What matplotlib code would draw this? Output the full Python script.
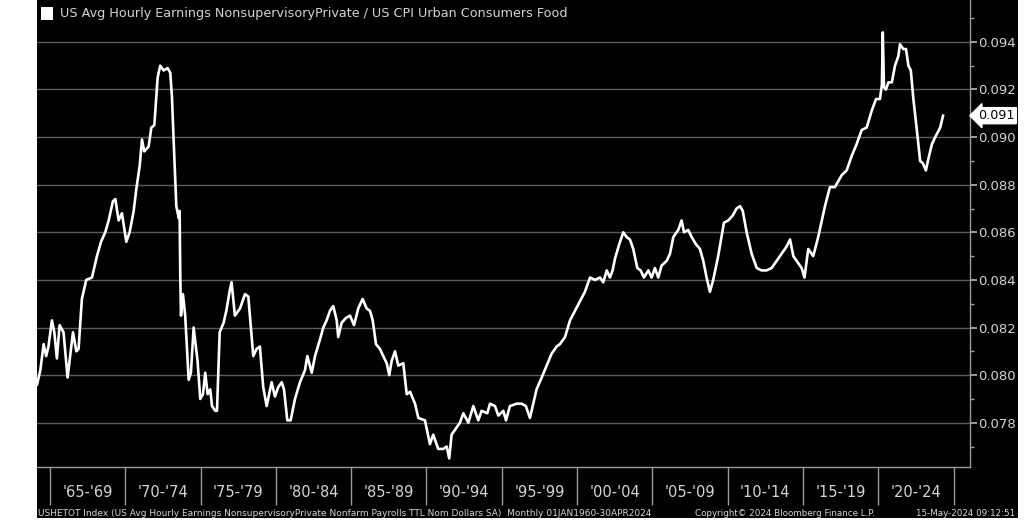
import matplotlib
matplotlib.use("Agg")
import matplotlib.pyplot as plt
import matplotlib.ticker as ticker
from matplotlib.patches import Rectangle

# ── Data ──────────────────────────────────────────────────────────────────────
YEARS = [
    1964.14, 1964.36, 1964.58, 1964.75, 1964.90, 1965.13, 1965.29, 1965.46, 1965.64, 1965.90,
    1966.17, 1966.53, 1966.75, 1966.90, 1967.12, 1967.41, 1967.79, 1968.12, 1968.39, 1968.67,
    1968.90, 1969.18, 1969.34, 1969.56, 1969.78, 1970.07, 1970.29, 1970.56, 1970.73, 1970.96,
    1971.11, 1971.26, 1971.55, 1971.73, 1971.93, 1972.06, 1972.15, 1972.32, 1972.55, 1972.81,
    1972.99, 1973.10, 1973.21, 1973.39, 1973.55, 1973.61, 1973.65, 1973.70, 1973.83, 1973.98,
    1974.21, 1974.36, 1974.54, 1974.80, 1974.98, 1975.16, 1975.31, 1975.47, 1975.64, 1975.76,
    1975.98, 1976.09, 1976.27, 1976.53, 1976.71, 1976.95, 1977.06, 1977.28, 1977.62, 1977.95,
    1978.17, 1978.50, 1978.72, 1978.94, 1979.16, 1979.39, 1979.72, 1979.94, 1980.16, 1980.39,
    1980.54, 1980.76, 1980.98, 1981.27, 1981.60, 1981.93, 1982.09, 1982.38, 1982.60, 1982.93,
    1983.15, 1983.37, 1983.59, 1983.81, 1984.04, 1984.14, 1984.37, 1984.65, 1984.92, 1985.19,
    1985.47, 1985.76, 1986.03, 1986.25, 1986.43, 1986.65, 1986.91, 1987.13, 1987.36, 1987.53,
    1987.69, 1987.91, 1988.13, 1988.46, 1988.69, 1988.91, 1989.24, 1989.46, 1989.90, 1990.23,
    1990.45, 1990.78, 1991.12, 1991.34, 1991.51, 1991.67, 1992.00, 1992.22, 1992.45, 1992.78,
    1993.11, 1993.44, 1993.66, 1994.04, 1994.22, 1994.55, 1994.77, 1995.10, 1995.28, 1995.54,
    1995.99, 1996.32, 1996.60, 1996.87, 1997.09, 1997.31, 1997.65, 1997.98, 1998.31, 1998.64,
    1998.86, 1999.20, 1999.53, 1999.86, 2000.19, 2000.52, 2000.86, 2001.19, 2001.52, 2001.74,
    2001.97, 2002.18, 2002.36, 2002.52, 2002.80, 2003.07, 2003.29, 2003.51, 2003.73, 2004.00,
    2004.22, 2004.44, 2004.73, 2004.95, 2005.17, 2005.39, 2005.61, 2005.95, 2006.17, 2006.39,
    2006.72, 2006.94, 2007.10, 2007.38, 2007.61, 2007.89, 2008.16, 2008.38, 2008.60, 2008.82,
    2009.04, 2009.37, 2009.75, 2010.04, 2010.33, 2010.59, 2010.82, 2011.00, 2011.26, 2011.59,
    2011.93, 2012.25, 2012.59, 2012.92, 2013.25, 2013.58, 2013.91, 2014.14, 2014.36, 2014.69,
    2014.91, 2015.10, 2015.35, 2015.68, 2016.01, 2016.46, 2016.79, 2017.12, 2017.57, 2017.90,
    2018.23, 2018.56, 2018.90, 2019.23, 2019.56, 2019.85, 2020.11, 2020.24, 2020.30, 2020.38,
    2020.51, 2020.67, 2020.90, 2021.11, 2021.33, 2021.44, 2021.66, 2021.84, 2022.00, 2022.16,
    2022.33, 2022.56, 2022.78, 2022.96, 2023.16, 2023.33, 2023.56, 2023.78, 2024.11, 2024.30,
]
RATIO = [
    0.0796, 0.0802, 0.0813, 0.0808, 0.0812, 0.0823, 0.0818, 0.0807, 0.0821, 0.0818,
    0.0799, 0.0818, 0.0810, 0.0811, 0.0832, 0.0840, 0.0841, 0.0850, 0.0856, 0.0860,
    0.0865, 0.0873, 0.0874, 0.0865, 0.0868, 0.0856, 0.0860, 0.0869, 0.0878, 0.0888,
    0.0899, 0.0894, 0.0896, 0.0904, 0.0905, 0.0917, 0.0925, 0.0930, 0.0928, 0.0929,
    0.0927, 0.0917, 0.0899, 0.0871, 0.0866, 0.0869, 0.0843, 0.0825, 0.0834, 0.0825,
    0.0798, 0.0801, 0.0820, 0.0806, 0.0790, 0.0792, 0.0801, 0.0792, 0.0794, 0.0787,
    0.0785, 0.0785, 0.0818, 0.0822, 0.0827, 0.0836, 0.0839, 0.0825, 0.0828, 0.0834,
    0.0833, 0.0808, 0.0811, 0.0812, 0.0795, 0.0787, 0.0797, 0.0791, 0.0795, 0.0797,
    0.0794, 0.0781, 0.0781, 0.0790, 0.0797, 0.0802, 0.0808, 0.0801, 0.0808, 0.0815,
    0.0820, 0.0823, 0.0827, 0.0829, 0.0823, 0.0816, 0.0822, 0.0824, 0.0825, 0.0821,
    0.0828, 0.0832, 0.0828, 0.0827, 0.0823, 0.0813, 0.0811, 0.0808, 0.0805, 0.0800,
    0.0806, 0.0810, 0.0804, 0.0805, 0.0792, 0.0793, 0.0788, 0.0782, 0.0781, 0.0771,
    0.0775, 0.0769, 0.0769, 0.0770, 0.0765, 0.0775, 0.0778, 0.0780, 0.0784, 0.0780,
    0.0787, 0.0781, 0.0785, 0.0784, 0.0788, 0.0787, 0.0783, 0.0785, 0.0781, 0.0787,
    0.0788, 0.0788, 0.0787, 0.0782, 0.0788, 0.0794, 0.0799, 0.0804, 0.0809, 0.0812,
    0.0813, 0.0816, 0.0823, 0.0827, 0.0831, 0.0835, 0.0841, 0.0840, 0.0841, 0.0839,
    0.0844, 0.0841, 0.0844, 0.0849, 0.0855, 0.0860, 0.0858, 0.0857, 0.0853, 0.0845,
    0.0844, 0.0841, 0.0844, 0.0841, 0.0845, 0.0841, 0.0846, 0.0848, 0.0851, 0.0858,
    0.0861, 0.0865, 0.0860, 0.0861, 0.0858, 0.0855, 0.0853, 0.0848, 0.0841, 0.0835,
    0.0840, 0.0850, 0.0864, 0.0865, 0.0867, 0.0870, 0.0871, 0.0869, 0.0860, 0.0851,
    0.0845, 0.0844, 0.0844, 0.0845, 0.0848, 0.0851, 0.0854, 0.0857, 0.0850, 0.0847,
    0.0845, 0.0841, 0.0853, 0.0850, 0.0858, 0.0871, 0.0879, 0.0879, 0.0884, 0.0886,
    0.0892, 0.0897, 0.0903, 0.0904, 0.0911, 0.0916, 0.0916, 0.0922, 0.0944, 0.0921,
    0.0920, 0.0923, 0.0923, 0.0930, 0.0934, 0.0939, 0.0937, 0.0937, 0.0930, 0.0928,
    0.0916, 0.0903, 0.0890, 0.0889, 0.0886, 0.0891, 0.0897, 0.0900, 0.0904, 0.0909,
]
PERIOD_STARTS = list(range(1965, 2026, 5))
PERIOD_LABELS = ["'65-'69", "'70-'74", "'75-'79", "'80-'84", "'85-'89", "'90-'94",
                 "'95-'99", "'00-'04", "'05-'09", "'10-'14", "'15-'19", "'20-'24"]
LAST_LABEL = "0.091"

LEGEND = "US Avg Hourly Earnings NonsupervisoryPrivate / US CPI Urban Consumers Food"
FOOT_LEFT = ("USHETOT Index (US Avg Hourly Earnings NonsupervisoryPrivate Nonfarm "
             "Payrolls TTL Nom Dollars SA)  Monthly 01JAN1960-30APR2024")
FOOT_MID = "Copyright\u00a9 2024 Bloomberg Finance L.P."
FOOT_RIGHT = "15-May-2024 09:12:51"

# ── Style ─────────────────────────────────────────────────────────────────────
plt.rcParams["font.family"] = ["DejaVu Sans"]
W, H = 1024, 524
GRID = "#5c5c5c"
TXT = "#d4d4d4"

fig = plt.figure(figsize=(W / 100, H / 100), dpi=100, facecolor="white")
# black Bloomberg panel inside the white margin
fig.patches.append(Rectangle((37 / W, 1 - 518 / H), (1018 - 37) / W, 518 / H,
                             transform=fig.transFigure, facecolor="black",
                             edgecolor="none", zorder=-5))

ax = fig.add_axes([37 / W, 1 - 467 / H, (970 - 37) / W, 467 / H])
ax.set_zorder(2)
ax.set_facecolor("black")
ax.set_xlim(1964.14, 2026.09)
ax.set_ylim(0.07614, 0.09576)

ax.plot(YEARS, RATIO, color="white", linewidth=1.9, solid_joinstyle="round", zorder=3)

# ── Axes / grid ───────────────────────────────────────────────────────────────
for s in ("top", "left"):
    ax.spines[s].set_visible(False)
for s in ("right", "bottom"):
    ax.spines[s].set_color("#9a9a9a")
    ax.spines[s].set_linewidth(1.0)

ax.yaxis.tick_right()
ax.yaxis.set_major_locator(ticker.MultipleLocator(0.002))
ax.yaxis.set_minor_locator(ticker.MultipleLocator(0.001))
ax.yaxis.set_major_formatter(ticker.FormatStrFormatter("%.3f"))
ax.tick_params(axis="y", which="major", direction="out", length=5, width=1.2,
               color="#bbbbbb", labelcolor=TXT, labelsize=9.5, pad=1)
ax.tick_params(axis="y", which="minor", direction="out", length=3, width=1,
               color="#9a9a9a")
ax.grid(axis="y", which="major", color=GRID, linewidth=1.0)

ax.set_xticks(PERIOD_STARTS)
ax.tick_params(axis="x", which="major", direction="out", length=27, width=1,
               color="#9a9a9a", labelbottom=False)
for start, lab in zip(PERIOD_STARTS, PERIOD_LABELS):
    ax.text(start + 2.5, -0.055, lab, transform=ax.get_xaxis_transform(),
            ha="center", va="center", color=TXT, fontsize=10.5, clip_on=False)

# last value tag
ax.annotate(LAST_LABEL, xy=(1.0, RATIO[-1]), xycoords=("axes fraction", "data"),
            xytext=(6, 0), textcoords="offset points", ha="left", va="center",
            fontsize=9.2, color="black", annotation_clip=False,
            bbox=dict(boxstyle="larrow,pad=0.12", facecolor="white", edgecolor="white"))

# ── Legend and footer ─────────────────────────────────────────────────────────
fig.patches.append(Rectangle((41 / W, 1 - 20 / H), 12 / W, 13 / H,
                             transform=fig.transFigure, facecolor="white",
                             edgecolor="none", zorder=5))
fig.text(60 / W, 1 - 14 / H, LEGEND, color=TXT, fontsize=9.2, va="center", ha="left")

fig.text(38 / W, 1 - 513 / H, FOOT_LEFT, color=TXT, fontsize=6.5, va="center", ha="left")
fig.text(695 / W, 1 - 513 / H, FOOT_MID, color=TXT, fontsize=6.3, va="center", ha="left")
fig.text(1015 / W, 1 - 513 / H, FOOT_RIGHT, color=TXT, fontsize=6.3, va="center", ha="right")

fig.savefig("out.png", dpi=100, facecolor=fig.get_facecolor())
